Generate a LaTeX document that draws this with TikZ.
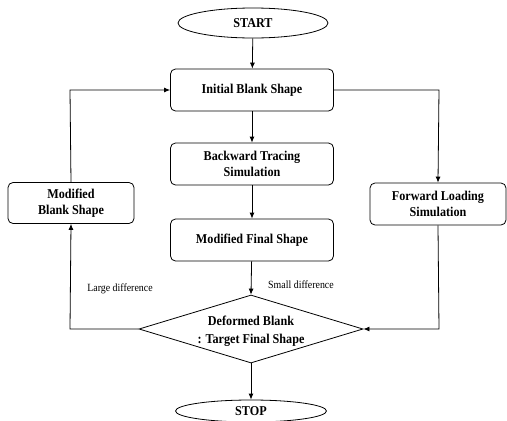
\documentclass[tikz,border=0pt]{standalone}
\usepackage{fontspec}
\setmainfont{Liberation Serif}
\newfontfamily\narrowserif[FakeStretch=0.9]{Liberation Serif}
\usetikzlibrary{shapes.geometric,arrows.meta}
\begin{document}
\begin{tikzpicture}[x=1pt,y=-1pt,
  every node/.style={font=\narrowserif\bfseries\fontsize{13.5}{16}\selectfont, align=center, inner sep=0pt},
  procbox/.style={draw, rounded corners=5pt, line width=0.8pt},
  term/.style={draw, ellipse, line width=0.8pt},
  flow/.style={line width=0.8pt, -{Latex[length=6pt,width=5pt]}},
  lbl/.style={font=\narrowserif\fontsize{11}{13}\selectfont}]
\useasboundingbox (0,0) rectangle (507,421);
\node[term, minimum width=150pt, minimum height=30pt] (start) at (253,23) {START};
\node[procbox, minimum width=163pt, minimum height=42pt] (init) at (252,90) {Initial Blank Shape};
\node[procbox, minimum width=163pt, minimum height=42pt] (back) at (252,164) {Backward Tracing\\Simulation};
\node[procbox, minimum width=163pt, minimum height=42pt] (mfin) at (252,240) {Modified Final Shape};
\node[procbox, minimum width=126pt, minimum height=41pt] (mblank) at (71,203) {Modified\\Blank Shape};
\node[procbox, minimum width=136pt, minimum height=42pt] (fwd) at (438,204) {Forward Loading\\Simulation};
\node[draw, diamond, aspect=3.3, minimum width=224pt, minimum height=68pt, line width=0.8pt, inner sep=0pt] (dec) at (251,329) {};
\node at (251,321) {Deformed Blank};
\node at (251,340) {: Target Final Shape};
\node[term, minimum width=151pt, minimum height=22pt] (stop) at (251,411) {STOP};
\coordinate (c1) at (70,329);
\coordinate (c2) at (70,90);
\coordinate (c3) at (439,90);
\coordinate (c4) at (439,329);
\draw[flow] (start) -- (init);
\draw[flow] (init) -- (back);
\draw[flow] (back) -- (mfin);
\draw[flow] (mfin) -- (dec.north);
\draw[flow] (dec.south) -- (stop);
\draw[flow] (dec.west) -- (c1) -- (mblank.south);
\draw[flow] (mblank.north) -- (c2) -- (init.west);
\draw[flow] (init.east) -- (c3) -- (fwd.north);
\draw[flow] (fwd.south) -- (c4) -- (dec.east);
\node[lbl] (large) at (120,289) {Large difference};
\node[lbl] (small) at (301,285) {Small difference};
\end{tikzpicture}
\end{document}
